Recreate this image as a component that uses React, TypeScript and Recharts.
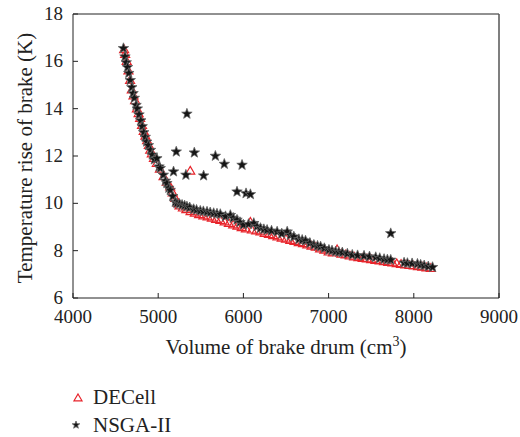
import React from "react";
import { ScatterChart, Scatter, XAxis, YAxis, ReferenceLine } from "recharts";

// DECell – red open triangles
const decellVolume = [
  4600, 4612, 4630, 4651, 4670, 4690, 4710, 4729, 4750, 4770, 4788, 4810, 4830, 4850, 4870, 4890,
  4906, 4925, 4950, 4984, 5020, 5063, 5100, 5141, 5170, 5200, 5235, 5376,
  5250, 5290, 5330, 5380, 5430, 5480, 5530, 5580, 5630, 5680, 5730, 5780, 5830, 5880, 5930, 5980,
  6030, 6082, 6100, 6150, 6200, 6250, 6300, 6350, 6400, 6450, 6500, 6550, 6600, 6650, 6700, 6750,
  6800, 6850, 6900, 6950, 7000, 7050, 7100, 7150, 7200, 7250, 7300, 7350, 7400, 7450, 7500, 7550,
  7600, 7650, 7700, 7750, 7800, 7850, 7900, 7950, 8000, 8050, 8100, 8150, 8200,
];
const decellTemp = [
  16.5, 16.3, 16.0, 15.6, 15.2, 14.8, 14.55, 14.35, 14.0, 13.8, 13.6, 13.3, 13.05, 12.85, 12.65, 12.45,
  12.25, 12.1, 11.9, 11.69, 11.45, 11.13, 10.9, 10.7, 10.45, 10.21, 10.0, 11.37,
  9.9, 9.81, 9.74, 9.66, 9.59, 9.53, 9.48, 9.43, 9.38, 9.33, 9.28, 9.22, 9.16, 9.1, 9.04, 8.98,
  8.93, 9.21, 8.88, 8.84, 8.8, 8.74, 8.69, 8.64, 8.59, 8.54, 8.49, 8.44, 8.4, 8.35, 8.3, 8.25,
  8.2, 8.15, 8.08, 8.03, 7.95, 7.91, 8.05, 7.86, 7.83, 7.78, 7.74, 7.71, 7.68, 7.66, 7.63, 7.6,
  7.57, 7.54, 7.51, 7.49, 7.46, 7.43, 7.4, 7.38, 7.36, 7.33, 7.31, 7.28, 7.26,
];

// NSGA-II – black stars
const nsgaVolume = [
  4592, 4610, 4625, 4640, 4655, 4672, 4690, 4705, 4720, 4740, 4755, 4775, 4795, 4812, 4830, 4848,
  4865, 4885, 4910, 4930, 4955, 4984, 5010, 5024, 5060, 5085, 5102, 5125, 5141, 5170, 5200,
  5180, 5212, 5325, 5337, 5424, 5533, 5671, 5776, 5984, 5925, 6031, 6082, 7729,
  5220, 5250, 5280, 5310, 5337, 5370, 5416, 5450, 5494, 5530, 5573, 5610, 5651, 5690, 5729, 5790,
  5847, 5880, 5925, 5960, 6000, 6060, 6122, 6160, 6200, 6240, 6278, 6330, 6396, 6450, 6514, 6550,
  6592, 6651, 6690, 6729, 6780, 6827, 6870, 6906, 6950, 7004, 7040, 7082, 7120, 7161, 7220, 7278,
  7340, 7416, 7480, 7553, 7600, 7651, 7690, 7729, 7886, 7925, 7980, 8043, 8080, 8122, 8170, 8220,
];
const nsgaTemp = [
  16.55, 16.2, 15.95, 15.75, 15.5, 15.2, 14.9, 14.65, 14.45, 14.15, 14.0, 13.75, 13.5, 13.25, 13.0, 12.8,
  12.6, 12.45, 12.25, 12.05, 11.85, 11.9, 11.55, 11.48, 11.2, 10.95, 10.85, 10.65, 10.56, 10.3, 10.05,
  11.34, 12.18, 11.2, 13.78, 12.14, 11.17, 12.0, 11.66, 11.62, 10.49, 10.42, 10.38, 8.73,
  10.0, 9.97, 9.93, 9.9, 9.86, 9.82, 9.75, 9.72, 9.68, 9.66, 9.64, 9.61, 9.58, 9.56, 9.54, 9.45,
  9.5, 9.38, 9.3, 9.2, 9.09, 9.12, 9.16, 9.02, 8.95, 8.9, 8.87, 8.84, 8.8, 8.72, 8.8, 8.65,
  8.59, 8.48, 8.45, 8.42, 8.32, 8.24, 8.2, 8.17, 8.1, 8.03, 8.0, 7.96, 7.94, 7.92, 7.87, 7.82,
  7.8, 7.78, 7.75, 7.72, 7.68, 7.64, 7.62, 7.61, 7.49, 7.47, 7.46, 7.44, 7.4, 7.37, 7.33, 7.3,
];

const xTicks = [4000, 5000, 6000, 7000, 8000, 9000];
const yTicks = [6, 8, 10, 12, 14, 16, 18];

const decellData = decellVolume.map((v, i) => ({ x: v, y: decellTemp[i] }));
const nsgaData = nsgaVolume.map((v, i) => ({ x: v, y: nsgaTemp[i] }));

const FONT = "'Liberation Serif', 'DejaVu Serif', serif";
const TEXT = "#222";

const Triangle = ({ cx, cy, rad = 4.5 }: any) => {
  if (cx == null || cy == null) return null;
  return (
    <polygon
      points={`${cx},${cy - rad} ${cx + rad},${cy + rad * 0.7} ${cx - rad},${cy + rad * 0.7}`}
      fill="none"
      stroke="#e8232a"
      strokeWidth={1.2}
    />
  );
};

const starPoints = (cx: number, cy: number, ro: number, ri: number) => {
  const pts: string[] = [];
  for (let k = 0; k < 10; k++) {
    const r = k % 2 === 0 ? ro : ri;
    const a = -Math.PI / 2 + (k * Math.PI) / 5;
    pts.push(`${cx + r * Math.cos(a)},${cy + r * Math.sin(a)}`);
  }
  return pts.join(" ");
};

const Star = ({ cx, cy, rad = 5.5 }: any) => {
  if (cx == null || cy == null) return null;
  return (
    <polygon points={starPoints(cx, cy, rad, rad * 0.42)} fill="#151515" stroke="#666" strokeWidth={0.8} />
  );
};

const XTick = ({ x, y, payload }: any) => (
  <g>
    <line x1={x} y1={y} x2={x} y2={y - 5} stroke={TEXT} />
    <text x={x} y={y + 25} textAnchor="middle" fontSize={19} fontFamily={FONT} fill={TEXT}>
      {payload.value}
    </text>
  </g>
);

const YTick = ({ x, y, payload }: any) => (
  <g>
    <line x1={x} y1={y} x2={x + 5} y2={y} stroke={TEXT} />
    <text x={x - 10} y={y + 6} textAnchor="end" fontSize={19} fontFamily={FONT} fill={TEXT}>
      {payload.value}
    </text>
  </g>
);

export default function App() {
  return (
    <div style={{ position: "absolute", left: 0, top: 0, width: 520, height: 437, background: "#fff" }}>
      <ScatterChart width={520} height={437} margin={{ top: 14, right: 21, bottom: 79, left: 0 }}>
        <XAxis
          type="number"
          dataKey="x"
          domain={[4000, 9000]}
          ticks={xTicks}
          tickSize={0}
          tickMargin={0}
          tickLine={false}
          tick={<XTick />}
          axisLine={{ stroke: TEXT }}
          height={60}
          allowDataOverflow
          label={{
            content: () => (
              <text x={286} y={354} textAnchor="middle" fontSize={21} fontFamily={FONT} fill={TEXT}>
                Volume of brake drum (cm
                <tspan dy={-8} fontSize={14}>3</tspan>
                <tspan dy={8}>)</tspan>
              </text>
            ),
          }}
        />
        <YAxis
          type="number"
          dataKey="y"
          domain={[6, 18]}
          ticks={yTicks}
          tickSize={0}
          tickMargin={0}
          tickLine={false}
          tick={<YTick />}
          axisLine={{ stroke: TEXT }}
          width={73}
          allowDataOverflow
          label={{
            content: () => (
              <text
                x={25}
                y={158}
                transform="rotate(-90 25 158)"
                textAnchor="middle"
                dominantBaseline="central"
                fontSize={21}
                fontFamily={FONT}
                fill={TEXT}
              >
                Temperature rise of brake (K)
              </text>
            ),
          }}
        />
        <ReferenceLine y={18} stroke={TEXT} />
        <ReferenceLine x={9000} stroke="#555" strokeWidth={1.5} />
        <Scatter name="DECell" data={decellData} shape={<Triangle />} isAnimationActive={false} />
        <Scatter name="NSGA-II" data={nsgaData} shape={<Star />} isAnimationActive={false} />
      </ScatterChart>
      <div style={{ position: "absolute", left: 70, top: 383, fontFamily: FONT, fontSize: 21, color: TEXT }}>
        <div style={{ display: "flex", alignItems: "center", height: 28 }}>
          <svg width={16} height={14} style={{ marginRight: 7 }}>
            <Triangle cx={8} cy={8} rad={4} />
          </svg>
          DECell
        </div>
        <div style={{ display: "flex", alignItems: "center", height: 28 }}>
          <svg width={16} height={14} style={{ marginRight: 7 }}>
            <Star cx={6} cy={7} rad={4} />
          </svg>
          NSGA-II
        </div>
      </div>
    </div>
  );
}
